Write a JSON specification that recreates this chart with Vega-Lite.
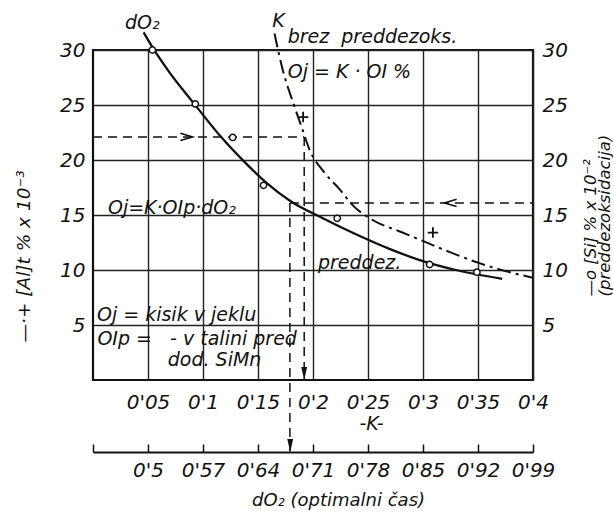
{
  "$schema": "https://vega.github.io/schema/vega-lite/v6.json",
  "width": 440,
  "height": 330,
  "autosize": {"type": "none"},
  "padding": {"left": 93, "top": 50, "right": 81, "bottom": 133},
  "background": "white",
  "config": {
    "view": {"stroke": "#111", "strokeWidth": 2.2},
    "font": "DejaVu Sans",
    "axis": {"labelFont": "DejaVu Sans", "titleFont": "DejaVu Sans", "labelColor": "#111", "titleColor": "#111", "labelFontStyle": "italic", "titleFontStyle": "italic", "titleFontWeight": "normal", "labelOverlap": false, "labelFlush": false}
  },
  "datasets": {
    "dO2": [
      {"K": 0.046, "v": 31.6}, {"K": 0.055, "v": 30.1}, {"K": 0.07, "v": 27.9}, {"K": 0.088, "v": 25.6},
      {"K": 0.1, "v": 24.1}, {"K": 0.1155, "v": 22.2}, {"K": 0.137, "v": 19.9}, {"K": 0.158, "v": 17.9},
      {"K": 0.179, "v": 16.3}, {"K": 0.209, "v": 14.7}, {"K": 0.24, "v": 13.2}, {"K": 0.27, "v": 11.9},
      {"K": 0.297, "v": 10.9}, {"K": 0.33, "v": 10.0}, {"K": 0.372, "v": 9.2}
    ],
    "si": [
      {"K": 0.054, "v": 30.0}, {"K": 0.093, "v": 25.1}, {"K": 0.127, "v": 22.05}, {"K": 0.155, "v": 17.7},
      {"K": 0.222, "v": 14.7}, {"K": 0.306, "v": 10.5}, {"K": 0.349, "v": 9.8}
    ],
    "al": [
      {"K": 0.165, "v": 31.5}, {"K": 0.173, "v": 28.0}, {"K": 0.182, "v": 25.2}, {"K": 0.19, "v": 22.9},
      {"K": 0.197, "v": 20.9}, {"K": 0.21, "v": 18.9}, {"K": 0.2245, "v": 17.3}, {"K": 0.236, "v": 15.9},
      {"K": 0.255, "v": 14.5}, {"K": 0.279, "v": 13.5}, {"K": 0.296, "v": 12.8}, {"K": 0.325, "v": 11.6},
      {"K": 0.352, "v": 10.6}, {"K": 0.375, "v": 9.9}, {"K": 0.4, "v": 9.3}
    ],
    "alpts": [{"K": 0.191, "v": 23.9}, {"K": 0.309, "v": 13.4}],
    "guides": [
      {"x": 0, "x2": 0.192, "y": 22.1, "y2": 22.1},
      {"x": 0.192, "x2": 0.192, "y": 22.1, "y2": 0},
      {"x": 0.179, "x2": 0.4, "y": 16.1, "y2": 16.1},
      {"x": 0.179, "x2": 0.179, "y": 16.1, "y2": -6.5}
    ],
    "chevrons": [{"K": 0.085, "v": 22.1, "dir": "right"}, {"K": 0.325, "v": 16.1, "dir": "left"}],
    "tri": [{"K": 0.192, "v": 0.6}],
    "tri2": [{"d": 0.681, "v": -5.95}],
    "notes": [
      {"K": 0.029, "v": 32.45, "t": "dO₂"},
      {"K": 0.163, "v": 32.6, "t": "K"},
      {"K": 0.177, "v": 31.2, "t": "brez\u00a0\u00a0preddezoks."},
      {"K": 0.177, "v": 28.0, "t": "Oj = K · OI %"},
      {"K": 0.0136, "v": 15.6, "t": "Oj=K·OIp·dO₂"},
      {"K": 0.2045, "v": 10.6, "t": "preddez."},
      {"K": 0.0036, "v": 5.9, "t": "Oj = kisik v jeklu"},
      {"K": 0.004, "v": 3.7, "t": "OIp =\u00a0\u00a0\u00a0- v talini pred"},
      {"K": 0.068, "v": 1.8, "t": "dod. SiMn"}
    ]
  },
  "layer": [
    {
      "layer": [
        {
          "data": {"name": "dO2"},
          "mark": {"type": "line", "interpolate": "monotone", "color": "#111", "strokeWidth": 2.3},
          "encoding": {
            "x": {"field": "K", "type": "quantitative", "scale": {"domain": [0, 0.4], "nice": false, "zero": false},
              "axis": {"values": [0.05, 0.1, 0.15, 0.2, 0.25, 0.3, 0.35, 0.4], "grid": true, "gridColor": "#222", "gridWidth": 1.4, "gridOpacity": 1,
                "domain": false, "ticks": false, "labelPadding": 12, "labelFontSize": 20,
                "labelExpr": "replace(format(datum.value, '.2~f'), '.', \"'\")",
                "title": "-K-", "titleX": 278, "titleY": 43, "titleAlign": "center", "titleBaseline": "middle", "titleFontSize": 19}},
            "y": {"field": "v", "type": "quantitative", "scale": {"domain": [0, 30], "nice": false},
              "axis": {"values": [5, 10, 15, 20, 25, 30], "grid": true, "gridColor": "#222", "gridWidth": 1.4, "gridOpacity": 1,
                "domain": false, "ticks": false, "labelPadding": 8, "labelFontSize": 20,
                "title": "—·+ [Al]t % x 10⁻³", "titleAngle": 270, "titleX": -70, "titleY": 292, "titleAlign": "left", "titleBaseline": "middle", "titleFontSize": 18.5}}
          }
        },
        {
          "data": {"name": "al"},
          "mark": {"type": "line", "interpolate": "monotone", "color": "#111", "strokeWidth": 2, "strokeDash": [14, 5, 3, 5]},
          "encoding": {"x": {"field": "K", "type": "quantitative"}, "y": {"field": "v", "type": "quantitative"}}
        },
        {
          "data": {"name": "guides"},
          "mark": {"type": "rule", "color": "#111", "strokeWidth": 1.5, "strokeDash": [9, 6]},
          "encoding": {"x": {"field": "x", "type": "quantitative"}, "x2": {"field": "x2"}, "y": {"field": "y", "type": "quantitative"}, "y2": {"field": "y2"}}
        },
        {
          "data": {"name": "si"},
          "mark": {"type": "point", "shape": "circle", "size": 40, "fill": "white", "fillOpacity": 1, "stroke": "#111", "strokeWidth": 1.5, "opacity": 1},
          "encoding": {"x": {"field": "K", "type": "quantitative"}, "y": {"field": "v", "type": "quantitative"}}
        },
        {
          "data": {"name": "alpts"},
          "mark": {"type": "point", "shape": "M-1,0L1,0M0,-1L0,1", "size": 110, "filled": false, "stroke": "#111", "strokeWidth": 1.8, "opacity": 1},
          "encoding": {"x": {"field": "K", "type": "quantitative"}, "y": {"field": "v", "type": "quantitative"}}
        },
        {
          "data": {"name": "chevrons"},
          "mark": {"type": "point", "filled": false, "size": 150, "stroke": "#111", "strokeWidth": 1.6, "opacity": 1},
          "encoding": {"x": {"field": "K", "type": "quantitative"}, "y": {"field": "v", "type": "quantitative"},
            "shape": {"field": "dir", "type": "nominal", "scale": {"domain": ["right", "left"], "range": ["M-1,-0.6L1,0L-1,0.6", "M1,-0.6L-1,0L1,0.6"]}, "legend": null}}
        },
        {
          "data": {"name": "tri"},
          "mark": {"type": "point", "shape": "M-0.45,-1L0.45,-1L0,1Z", "size": 170, "filled": true, "color": "#111", "opacity": 1},
          "encoding": {"x": {"field": "K", "type": "quantitative"}, "y": {"field": "v", "type": "quantitative"}}
        },
        {
          "data": {"name": "notes"},
          "mark": {"type": "text", "align": "left", "baseline": "middle", "fontSize": 19, "fontStyle": "italic", "color": "#111"},
          "encoding": {"x": {"field": "K", "type": "quantitative"}, "y": {"field": "v", "type": "quantitative"}, "text": {"field": "t"}}
        }
      ]
    },
    {
      "data": {"name": "tri2"},
      "mark": {"type": "point", "shape": "M-0.45,-1L0.45,-1L0,1Z", "size": 170, "filled": true, "color": "#111", "opacity": 1},
      "encoding": {
        "x": {"field": "d", "type": "quantitative", "scale": {"domain": [0.43, 0.99], "nice": false, "zero": false},
          "axis": {"orient": "bottom", "offset": 72, "values": [0.43, 0.5, 0.57, 0.64, 0.71, 0.78, 0.85, 0.92, 0.99], "grid": false,
            "domain": true, "domainColor": "#111", "domainWidth": 2, "ticks": true, "tickSize": -8, "tickColor": "#111", "tickWidth": 1.5,
            "labelPadding": 16, "labelFontSize": 20,
            "labelExpr": "datum.value < 0.45 ? '' : replace(format(datum.value, '.2~f'), '.', \"'\")",
            "title": "dO₂ (optimalni čas)", "titleX": 245, "titleY": 48, "titleAlign": "center", "titleBaseline": "middle", "titleFontSize": 18}},
        "y": {"field": "v", "type": "quantitative", "scale": {"domain": [0, 30], "nice": false},
          "axis": {"orient": "right", "values": [5, 10, 15, 20, 25, 30], "grid": false, "domain": false, "ticks": false, "labelPadding": 9, "labelFontSize": 20,
            "title": ["—o [Si] % x 10⁻²", "(preddezoksidacija)"], "titleAngle": 270, "titleX": 57, "titleY": 246, "titleAlign": "left", "titleBaseline": "middle", "titleFontSize": 16.5, "titleLineHeight": 14}}
      }
    }
  ],
  "resolve": {"scale": {"x": "independent"}, "axis": {"x": "independent", "y": "independent"}}
}
